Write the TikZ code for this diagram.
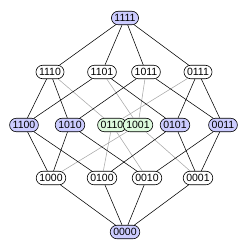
\documentclass[tikz,border=0pt]{standalone}
\usepackage{fontspec}
\setmainfont{Liberation Sans}
\usetikzlibrary{shapes.misc}
\definecolor{hcBlue}{HTML}{CCCCFF}
\definecolor{hcGreen}{HTML}{DDFADD}
\definecolor{hcGrey}{HTML}{A8A8A8}

\begin{document}
\begin{tikzpicture}[x=1pt,y=-1pt,font=\fontsize{10.5}{11}\selectfont,
    vtx/.style={draw=black,line width=0.6pt,rounded rectangle,fill=white,
                inner xsep=2pt,inner ysep=2pt,minimum height=13.5pt},
    blu/.style={vtx,fill=hcBlue},
    grn/.style={vtx,fill=hcGreen},
    edge/.style={line width=0.55pt,black},
    faint/.style={line width=0.55pt,hcGrey}]
  \useasboundingbox (0,0) rectangle (250,250);
  % top and bottom
  \node[blu] (n1111) at (125,18) {1111};
  \node[blu] (n0000) at (125,232) {0000};
  % weight three
  \node[vtx] (n1110) at (50,72) {1110};
  \node[vtx] (n1101) at (102,72) {1101};
  \node[vtx] (n1011) at (146,72) {1011};
  \node[vtx] (n0111) at (198,72) {0111};
  % weight two
  \node[blu] (n1100) at (24,125) {1100};
  \node[blu] (n1010) at (70,125) {1010};
  \node[grn] (n0110) at (112,125) {0110};
  \node[grn] (n1001) at (138,125) {1001};
  \node[blu] (n0101) at (175,125) {0101};
  \node[blu] (n0011) at (223,125) {0011};
  % weight one
  \node[vtx] (n1000) at (51,178) {1000};
  \node[vtx] (n0100) at (102,178) {0100};
  \node[vtx] (n0010) at (147,178) {0010};
  \node[vtx] (n0001) at (198,178) {0001};
  % edges through the green pair
  \foreach \a/\b in {1110/0110,0111/0110,1101/1001,1011/1001,
                     0110/0100,0110/0010,1001/1000,1001/0001}
    \draw[faint] (n\a) -- (n\b);
  % remaining edges
  \foreach \a/\b in {1111/1110,1111/1101,1111/1011,1111/0111,
                     1110/1100,1110/1010,1101/1100,1101/0101,
                     1011/1010,1011/0011,0111/0101,0111/0011,
                     1100/1000,1100/0100,1010/1000,1010/0010,
                     0101/0100,0101/0001,0011/0010,0011/0001,
                     1000/0000,0100/0000,0010/0000,0001/0000}
    \draw[edge] (n\a) -- (n\b);
\end{tikzpicture}
\end{document}
